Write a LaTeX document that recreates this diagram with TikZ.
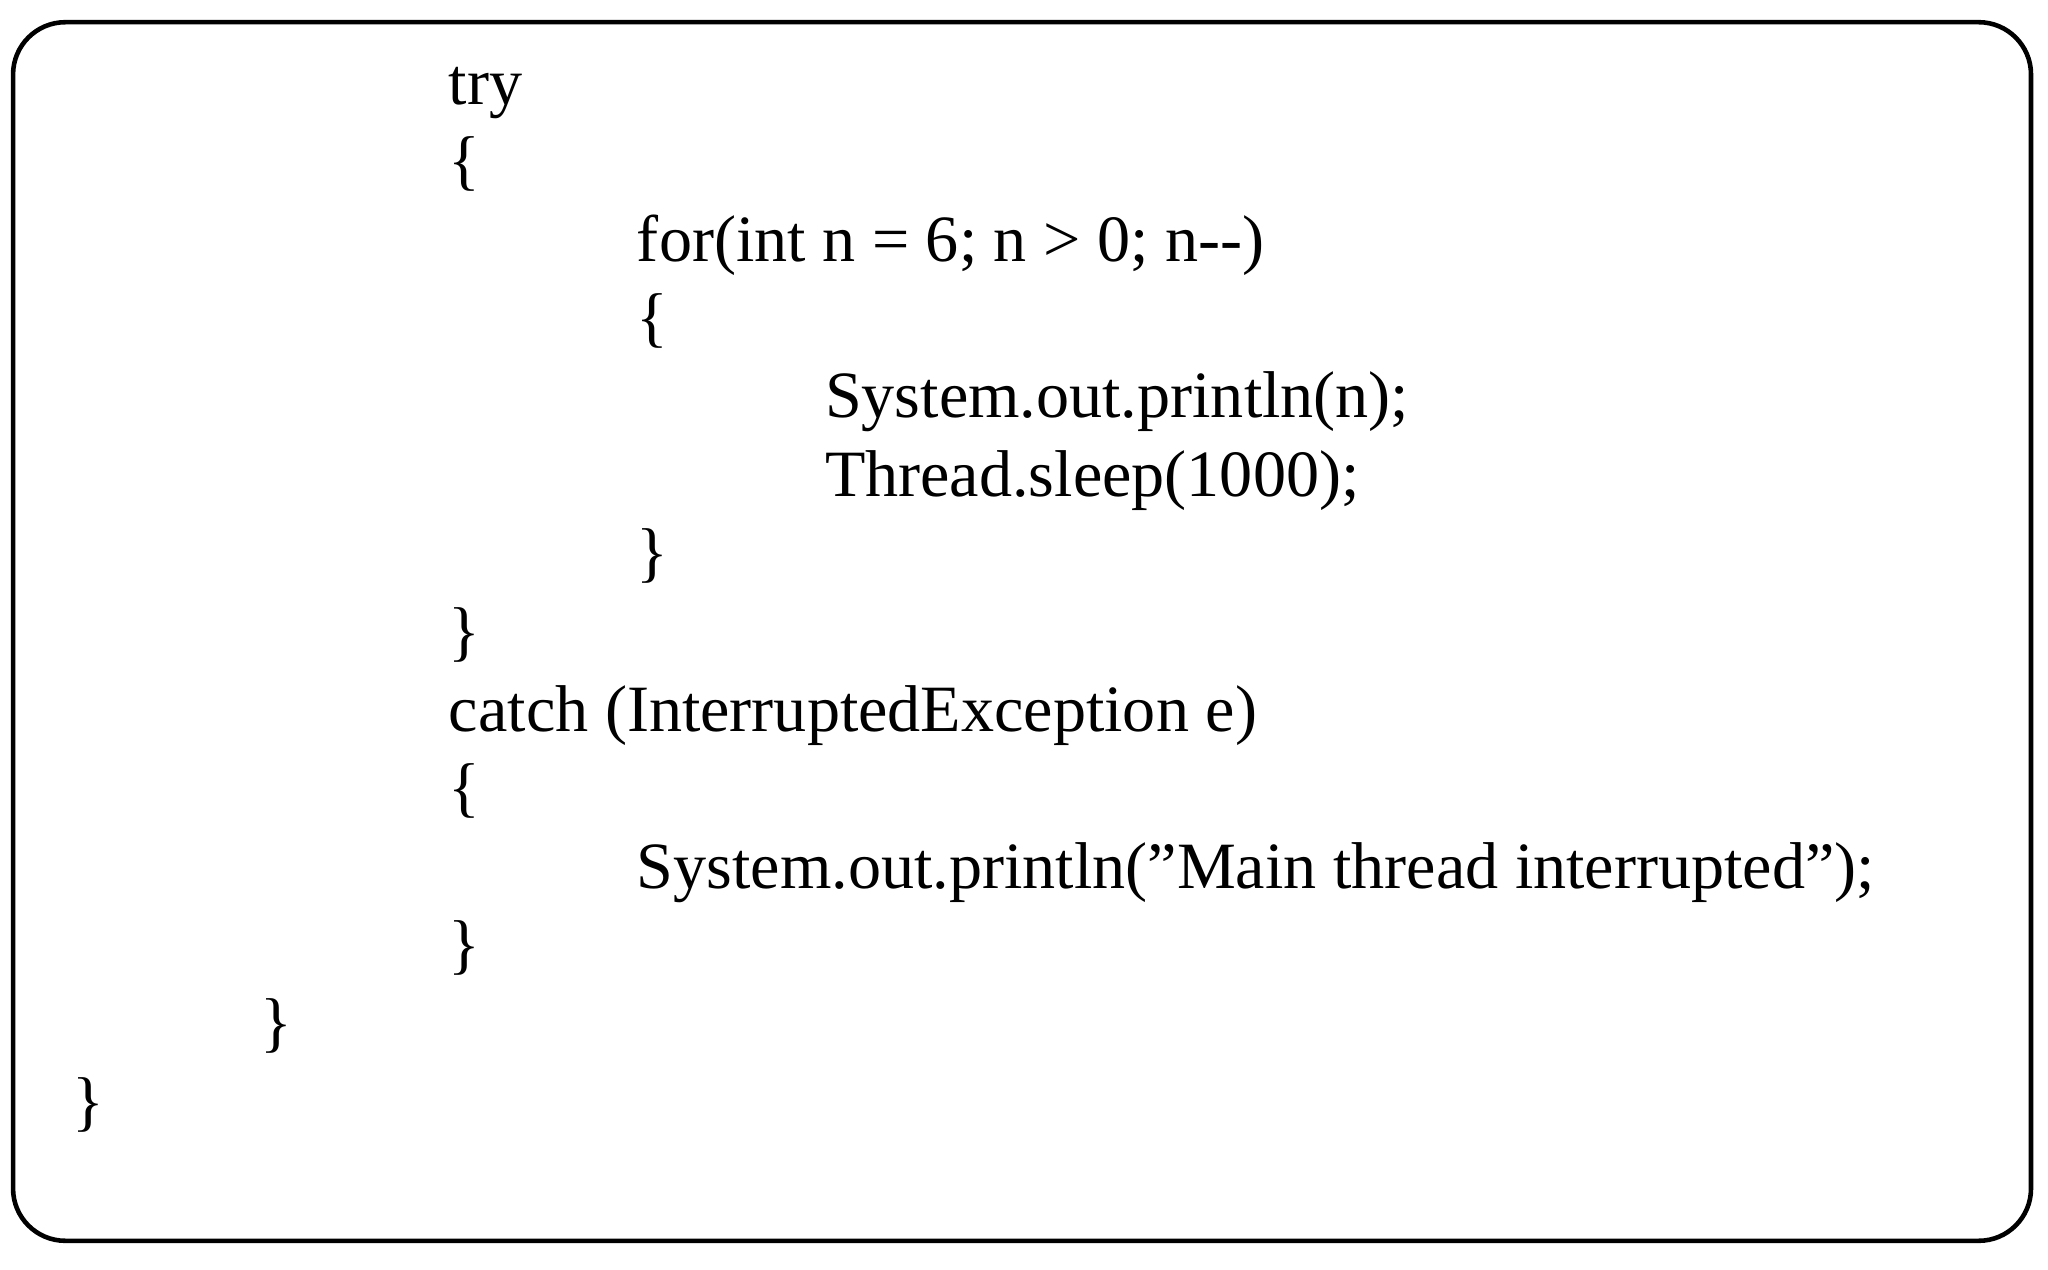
\documentclass[tikz,border=0pt]{standalone}
\usepackage{fontspec}
\setmainfont{Liberation Serif}
\begin{document}
\begin{tikzpicture}[x=0.01cm,y=0.01cm,
  code/.style={anchor=base west,inner sep=0pt,font=\fontsize{14.4}{17}\selectfont}]
\useasboundingbox (0,0) rectangle (1568,972);
\draw[line width=1pt,rounded corners=0.4cm] (10,22) rectangle (1555,955);
\def\r#1{972-80-60*#1}
\node[code] (l0) at (343,{\r0}) {try};
\node[code] (l1) at (343,{\r1}) {\{};
\node[code] (l2) at (487,{\r2}) {for(int n = 6; n > 0; n-{}-)};
\node[code] (l3) at (487,{\r3}) {\{};
\node[code] (l4) at (631,{\r4}) {System.out.println(n);};
\node[code] (l5) at (631,{\r5}) {Thread.sleep(1000);};
\node[code] (l6) at (487,{\r6}) {\}};
\node[code] (l7) at (343,{\r7}) {\}};
\node[code] (l8) at (343,{\r8}) {catch (InterruptedException e)};
\node[code] (l9) at (343,{\r9}) {\{};
\node[code] (l10) at (487,{\r{10}}) {System.out.println(\symbol{34}Main thread interrupted\symbol{34});};
\node[code] (l11) at (343,{\r{11}}) {\}};
\node[code] (l12) at (199,{\r{12}}) {\}};
\node[code] (l13) at (55,{\r{13}}) {\}};
\end{tikzpicture}
\end{document}
